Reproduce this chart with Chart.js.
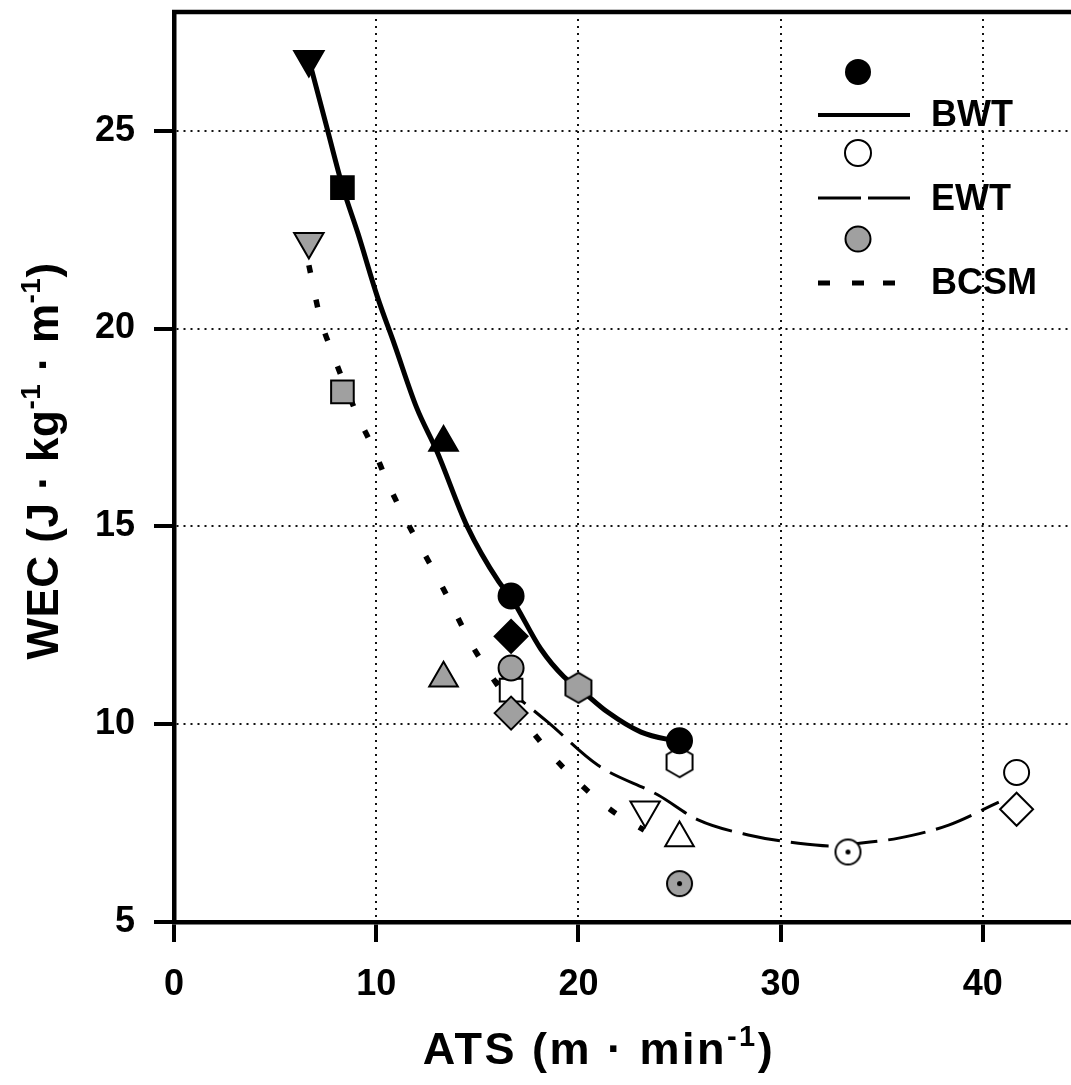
<!DOCTYPE html>
<html>
<head>
<meta charset="utf-8">
<script src="https://cdn.jsdelivr.net/npm/chart.js@4.4.1/dist/chart.umd.min.js"></script>
<style>
  html, body { margin: 0; padding: 0; background: #fff; overflow: hidden; }
  #wrap { width: 1092px; height: 1092px; margin-top: -7px; }
</style>
</head>
<body>
<div id="wrap"><canvas id="wecChart" width="1092" height="1092"></canvas></div>
<script>
// axis ticks
const xTicks = [0, 10, 20, 30, 40];
const yTicks = [5, 10, 15, 20, 25];

// BWT measured points (black markers)
const bwtX = [6.67, 8.33, 13.33, 16.67, 16.67, 25];
const bwtY = [26.8, 23.56, 17.12, 13.24, 12.22, 9.58];
const bwtShapes = ['triangleDown', 'square', 'triangle', 'circle', 'diamond', 'circle'];

// EWT measured points (open markers)
const ewtX = [16.67, 25, 23.3, 25, 33.33, 41.67, 41.67];
const ewtY = [10.86, 9.04, 7.83, 7.12, 6.77, 8.78, 7.85];
const ewtShapes = ['square', 'hexagon', 'triangleDown', 'triangle', 'dotCircle', 'circle', 'diamond'];

// BCSM measured points (grey markers)
const bcsmX = [6.67, 8.33, 13.33, 16.67, 16.67, 20, 25];
const bcsmY = [22.2, 18.4, 11.16, 11.42, 10.28, 10.92, 5.97];
const bcsmShapes = ['triangleDown', 'square', 'triangle', 'circle', 'diamond', 'hexagon', 'dotCircle'];

// fitted curves
const bwtFitX = [6.67, 7.5, 8.33, 9.1, 10.06, 10.9, 12.0, 13.0, 14.5, 16.06, 16.67, 18.14, 19.28, 20.0, 21.46, 23.1, 25.0];
const bwtFitY = [26.8, 25.2, 23.6, 22.4, 20.8, 19.6, 18.0, 16.9, 15.0, 13.6, 13.2, 11.9, 11.2, 10.92, 10.3, 9.8, 9.55];

const ewtFitX = [15.91, 17.15, 18.49, 20.97, 23.94, 25.92, 28.4, 30.88, 32.66, 33.9, 35.84, 38.31, 40.79];
const ewtFitY = [11.11, 10.61, 10.05, 8.96, 8.21, 7.58, 7.2, 6.99, 6.92, 6.99, 7.12, 7.45, 8.03];

const bcsmFitX = [6.67, 7.24, 7.83, 9.12, 9.86, 10.56, 11.35, 13.18, 13.93, 14.82, 18.39, 19.98, 21.61, 23.25];
const bcsmFitY = [21.6, 20.25, 19.39, 17.75, 16.97, 16.11, 15.28, 13.56, 12.8, 11.92, 9.39, 8.54, 7.83, 7.32];

const FONT = '"Liberation Sans", Arial, sans-serif';
const GREY = '#a0a0a0';
const SHIFT = 7; // canvas is moved up by this many px in the page

function makeHexagon(r, fill) {
  const c = document.createElement('canvas');
  const s = Math.ceil(2 * r + 4);
  c.width = s; c.height = s;
  const g = c.getContext('2d');
  g.beginPath();
  for (let i = 0; i < 6; i++) {
    const a = Math.PI / 2 + i * Math.PI / 3;
    const px = s / 2 + r * Math.cos(a), py = s / 2 + r * Math.sin(a);
    if (i === 0) g.moveTo(px, py); else g.lineTo(px, py);
  }
  g.closePath();
  g.fillStyle = fill; g.fill();
  g.lineWidth = 2; g.strokeStyle = '#000'; g.stroke();
  return c;
}

function makeDotCircle(r, fill) {
  const c = document.createElement('canvas');
  const s = Math.ceil(2 * r + 4);
  c.width = s; c.height = s;
  const g = c.getContext('2d');
  g.beginPath();
  g.arc(s / 2, s / 2, r, 0, Math.PI * 2);
  g.fillStyle = fill; g.fill();
  g.lineWidth = 2; g.strokeStyle = '#000'; g.stroke();
  g.beginPath();
  g.arc(s / 2, s / 2, 2.5, 0, Math.PI * 2);
  g.fillStyle = '#000'; g.fill();
  return c;
}

function markerSet(shapes, fill) {
  const style = [], rot = [], rad = [];
  shapes.forEach(sh => {
    let st = 'circle', ro = 0, ra = 12.5;
    if (sh === 'square') { st = 'rect'; ra = 16; }
    else if (sh === 'triangle') { st = 'triangle'; ra = 16.5; }
    else if (sh === 'triangleDown') { st = 'triangle'; ra = 17; ro = 180; }
    else if (sh === 'diamond') { st = 'rectRot'; ra = 16.5; }
    else if (sh === 'hexagon') { st = makeHexagon(15, fill); }
    else if (sh === 'dotCircle') { st = makeDotCircle(12.5, fill); }
    style.push(st); rot.push(ro); rad.push(ra);
  });
  return { style, rot, rad };
}

function pts(xs, ys) {
  return xs.map((x, i) => ({ x: x, y: ys[i] }));
}

function scatterSet(label, xs, ys, shapes, fill, order) {
  const m = markerSet(shapes, fill);
  return {
    label: label,
    type: 'scatter',
    data: pts(xs, ys),
    order: order,
    pointStyle: m.style,
    pointRotation: m.rot,
    pointRadius: m.rad,
    pointBackgroundColor: fill,
    pointBorderColor: '#000',
    pointBorderWidth: 2,
    showLine: false
  };
}

function lineSet(label, xs, ys, width, dash, order) {
  return {
    label: label,
    type: 'line',
    data: pts(xs, ys),
    order: order,
    borderColor: '#000',
    borderWidth: width,
    borderDash: dash,
    borderCapStyle: 'butt',
    cubicInterpolationMode: 'monotone',
    pointRadius: 0,
    fill: false
  };
}

function drawRich(ctx, parts, cx, cy, size, spacing) {
  const base = 'bold ' + size + 'px ' + FONT;
  const sup = 'bold ' + Math.round(size * 0.64) + 'px ' + FONT;
  ctx.letterSpacing = spacing + 'px';
  let total = 0;
  parts.forEach(p => { ctx.font = p.sup ? sup : base; total += ctx.measureText(p.t).width; });
  let x = cx - total / 2;
  ctx.textBaseline = 'middle';
  ctx.textAlign = 'left';
  parts.forEach(p => {
    ctx.font = p.sup ? sup : base;
    ctx.fillText(p.t, x, p.sup ? cy - size * 0.32 : cy);
    x += ctx.measureText(p.t).width;
  });
  ctx.letterSpacing = '0px';
}

const decorations = {
  id: 'decorations',
  afterDraw(chart) {
    const ctx = chart.ctx;
    const area = chart.chartArea;
    ctx.save();
    // top frame line
    ctx.strokeStyle = '#000';
    ctx.lineWidth = 4.5;
    ctx.beginPath();
    ctx.moveTo(area.left - 2, area.top);
    ctx.lineTo(area.right, area.top);
    ctx.stroke();

    ctx.translate(0, SHIFT);
    // legend
    ctx.fillStyle = '#000';
    ctx.beginPath(); ctx.arc(858, 72, 13, 0, Math.PI * 2); ctx.fill();
    ctx.lineWidth = 4;
    ctx.beginPath(); ctx.moveTo(818, 115); ctx.lineTo(910, 115); ctx.stroke();

    ctx.lineWidth = 2;
    ctx.beginPath(); ctx.arc(858, 153, 13, 0, Math.PI * 2);
    ctx.fillStyle = '#fff'; ctx.fill(); ctx.stroke();
    ctx.lineWidth = 3;
    ctx.beginPath(); ctx.moveTo(818, 198); ctx.lineTo(861, 198);
    ctx.moveTo(868, 198); ctx.lineTo(910, 198); ctx.stroke();

    ctx.lineWidth = 2;
    ctx.beginPath(); ctx.arc(858, 239, 12.5, 0, Math.PI * 2);
    ctx.fillStyle = GREY; ctx.fill(); ctx.stroke();
    ctx.lineWidth = 5;
    ctx.beginPath();
    [[818, 830], [852, 864], [883, 895]].forEach(d => { ctx.moveTo(d[0], 283); ctx.lineTo(d[1], 283); });
    ctx.stroke();

    ctx.fillStyle = '#000';
    ctx.font = 'bold 36px ' + FONT;
    ctx.textAlign = 'left';
    ctx.textBaseline = 'middle';
    ctx.fillText('BWT', 931, 116);
    ctx.fillText('EWT', 931, 200);
    ctx.fillText('BCSM', 931, 284);

    // axis titles
    drawRich(ctx, [{ t: 'ATS (m · min' }, { t: '-1', sup: true }, { t: ')' }], 599, 1052, 45, 2.5);
    ctx.translate(46, 461);
    ctx.rotate(-Math.PI / 2);
    drawRich(ctx, [{ t: 'WEC (J · kg' }, { t: '-1', sup: true }, { t: ' · m' }, { t: '-1', sup: true }, { t: ')' }], 0, 0, 44, 0.5);
    ctx.restore();
  }
};

function axisOpts(min, max, ticks, isX) {
  return {
    type: 'linear',
    min: min,
    max: max,
    afterFit: s => {
      if (isX) s.height = 163; else s.width = 174;
      s.paddingLeft = 0; s.paddingRight = 0; s.paddingTop = 0; s.paddingBottom = 0;
    },
    afterBuildTicks: s => { s.ticks = ticks.map(v => ({ value: v })); },
    ticks: {
      color: '#000',
      font: { family: FONT, size: 36, weight: 'bold' },
      padding: isX ? 21 : 19,
      maxRotation: 0,
      includeBounds: false
    },
    grid: {
      color: '#111',
      lineWidth: 2,
      tickLength: 20,
      tickWidth: 4,
      tickColor: '#000',
      tickBorderDash: []
    },
    border: { display: true, color: '#000', width: 4.5, dash: [2, 5] }
  };
}

const ctx = document.getElementById('wecChart').getContext('2d');
const wecChart = new Chart(ctx, {
  type: 'scatter',
  data: {
    datasets: [
      scatterSet('BWT', bwtX, bwtY, bwtShapes, '#000', 0),
      scatterSet('BCSM', bcsmX, bcsmY, bcsmShapes, GREY, 1),
      scatterSet('EWT', ewtX, ewtY, ewtShapes, '#fff', 2),
      lineSet('BWT fit', bwtFitX, bwtFitY, 5, [], 3),
      lineSet('EWT fit', ewtFitX, ewtFitY, 3, [38, 11], 4),
      lineSet('BCSM fit', bcsmFitX, bcsmFitY, 5.5, [8, 27], 5)
    ]
  },
  options: {
    responsive: false,
    animation: false,
    events: [],
    layout: { padding: { top: 4, left: 0, right: 0, bottom: 0 } },
    plugins: { legend: { display: false }, tooltip: { enabled: false } },
    scales: {
      x: axisOpts(0, 44.46, xTicks, true),
      y: axisOpts(5, 28, yTicks, false)
    }
  },
  plugins: [decorations]
});
</script>
</body>
</html>
